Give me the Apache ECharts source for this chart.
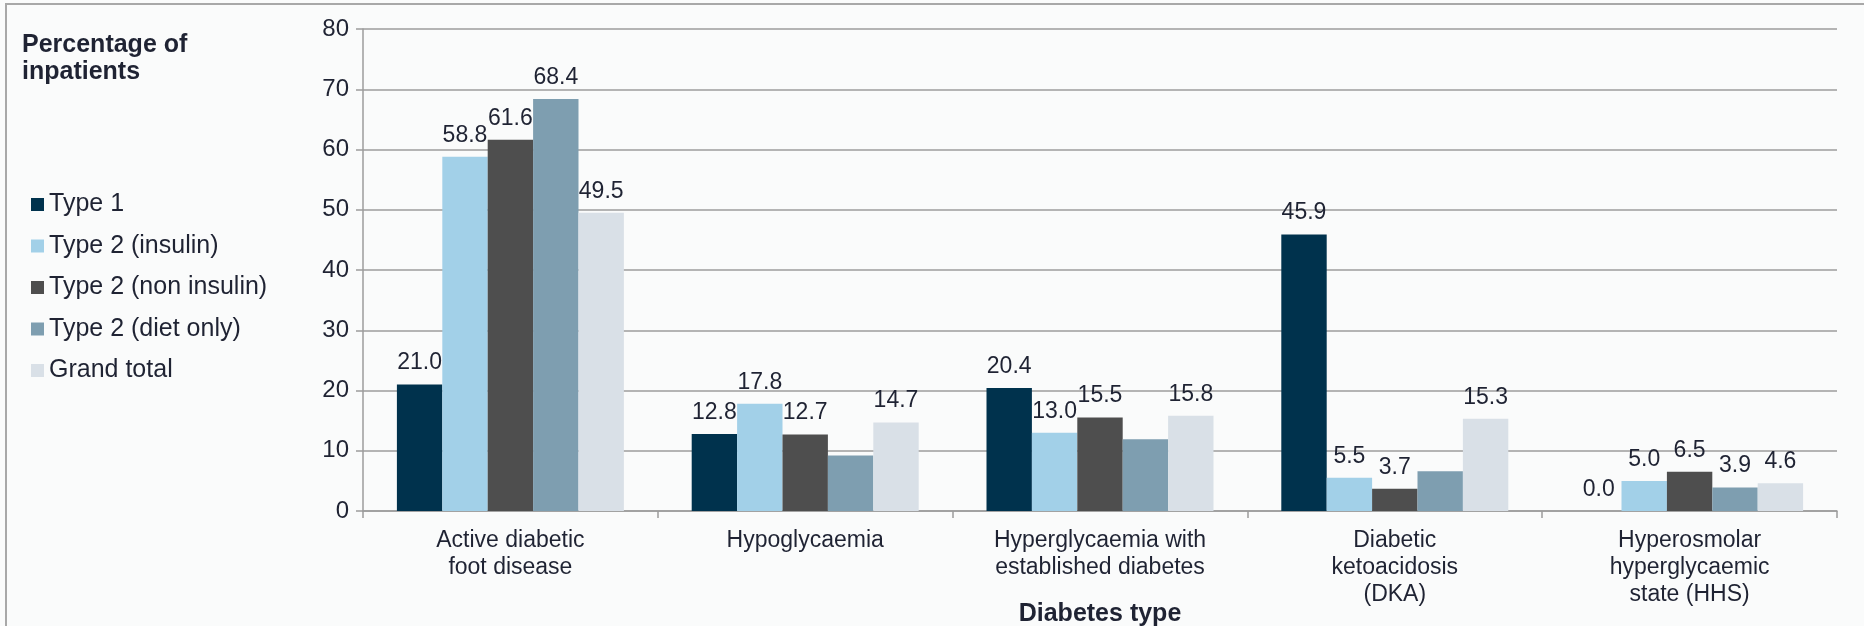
<!DOCTYPE html>
<html>
<head>
<meta charset="utf-8">
<title>Percentage of inpatients by diabetes type</title>
<script src="https://cdn.jsdelivr.net/npm/echarts@6/dist/echarts.min.js"></script>
<style>
  html, body { margin: 0; padding: 0; background: #fafbfb; }
  #chart { width: 1864px; height: 626px; }
</style>
</head>
<body>
<div id="chart"></div>
<script>
// Conditions shown on the category axis
const categories = [
  'Active diabetic\nfoot disease',
  'Hypoglycaemia',
  'Hyperglycaemia with\nestablished diabetes',
  'Diabetic\nketoacidosis\n(DKA)',
  'Hyperosmolar\nhyperglycaemic\nstate (HHS)'
];

// Percentage of inpatients per diabetes type
const type1 = [21.0, 12.8, 20.4, 45.9, 0.0];
const type2Insulin = [58.8, 17.8, 13.0, 5.5, 5.0];
const type2NonInsulin = [61.6, 12.7, 15.5, 3.7, 6.5];
const type2DietOnly = [68.4, 9.2, 11.9, 6.6, 3.9];
const grandTotal = [49.5, 14.7, 15.8, 15.3, 4.6];

// Which diet-only values carry a data label
const dietOnlyLabelled = [true, false, false, false, true];

const yTicks = { min: 0, max: 80, interval: 10 };

const textColor = '#1f2333';
const gridColor = '#9c9c9c';
const font = '"Liberation Sans", Arial, sans-serif';

function makeSeries(name, values, color, labelled) {
  return {
    name: name,
    type: 'bar',
    barGap: '0%',
    barCategoryGap: '23%',
    itemStyle: { color: color },
    label: {
      show: true,
      position: 'top',
      distance: 10,
      fontFamily: font,
      fontSize: 23,
      color: textColor,
      formatter: p => Number(p.value).toFixed(1)
    },
    data: values.map((v, i) => (labelled && !labelled[i])
      ? { value: v, label: { show: false } }
      : v)
  };
}

const chart = echarts.init(document.getElementById('chart'), null, { renderer: 'canvas' });

chart.setOption({
  backgroundColor: '#fafbfb',
  animation: false,
  textStyle: { fontFamily: font },
  title: {
    text: 'Percentage of\ninpatients',
    left: 22,
    top: 32,
    padding: 0,
    textStyle: {
      fontFamily: font,
      fontSize: 25,
      fontWeight: 'bold',
      lineHeight: 27,
      color: textColor
    }
  },
  legend: {
    orient: 'vertical',
    left: 31,
    top: 191,
    padding: 0,
    icon: 'rect',
    itemWidth: 13,
    itemHeight: 13,
    itemGap: 14.5,
    textStyle: {
      fontFamily: font,
      fontSize: 25,
      lineHeight: 27,
      color: textColor
    },
    data: ['Type 1', 'Type 2 (insulin)', 'Type 2 (non insulin)', 'Type 2 (diet only)', 'Grand total']
  },
  graphic: [{
    type: 'rect',
    shape: { x: 6, y: 4, width: 1900, height: 700 },
    style: { fill: 'none', stroke: '#a8a8a8', lineWidth: 2 },
    silent: true
  }],
  grid: { left: 363, right: 27, top: 29, bottom: 115, outerBoundsMode: 'none', containLabel: false },
  xAxis: {
    type: 'category',
    data: categories,
    name: 'Diabetes type',
    nameLocation: 'middle',
    nameGap: 91,
    nameMoveOverlap: false,
    nameTextStyle: {
      fontFamily: font,
      fontSize: 25,
      fontWeight: 'bold',
      color: textColor
    },
    axisLine: { show: true, lineStyle: { color: gridColor, width: 1.5 } },
    axisTick: { show: true, length: 7, lineStyle: { color: gridColor, width: 1.5 } },
    axisLabel: {
      margin: 16,
      fontFamily: font,
      fontSize: 23,
      lineHeight: 27,
      color: textColor,
      interval: 0,
      verticalAlign: 'top'
    }
  },
  yAxis: {
    type: 'value',
    min: yTicks.min,
    max: yTicks.max,
    interval: yTicks.interval,
    axisLine: { show: true, lineStyle: { color: gridColor, width: 1.5 } },
    axisTick: { show: true, length: 7, lineStyle: { color: gridColor, width: 1.5 } },
    splitLine: { show: true, lineStyle: { color: gridColor, width: 1.5 } },
    axisLabel: {
      margin: 14,
      fontFamily: font,
      fontSize: 24,
      color: textColor
    }
  },
  series: [
    makeSeries('Type 1', type1, '#00324d'),
    makeSeries('Type 2 (insulin)', type2Insulin, '#a2d0e8'),
    makeSeries('Type 2 (non insulin)', type2NonInsulin, '#4e4e4e'),
    makeSeries('Type 2 (diet only)', type2DietOnly, '#7e9eb0', dietOnlyLabelled),
    makeSeries('Grand total', grandTotal, '#d9e0e7')
  ]
});
</script>
</body>
</html>
